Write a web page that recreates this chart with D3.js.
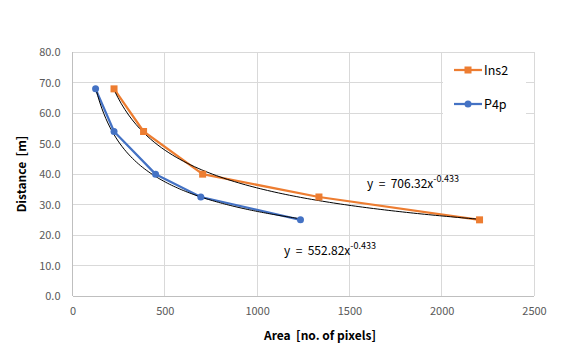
<!DOCTYPE html>
<html><head><meta charset="utf-8">
<script src="https://cdn.jsdelivr.net/npm/d3@7"></script>
<style>
body{margin:0;background:#fff;}
text{font-family:"Noto Sans CJK KR","Open Sans",sans-serif;white-space:pre;}
</style></head>
<body><svg id="c" width="566" height="357"></svg>
<script>
const ins2X = [225, 385, 705, 1335, 2205];
const ins2Y = [68, 54, 40, 32.5, 25];
const p4pX = [125, 225, 450, 695, 1235];
const p4pY = [68, 54, 40, 32.5, 25];
const seriesNames = ["Ins2", "P4p"];
const xTicks = [0, 500, 1000, 1500, 2000, 2500];
const yTicks = [0, 10, 20, 30, 40, 50, 60, 70, 80];
const trendIns2 = {a: 706.32, b: -0.433, label: "706.32"};
const trendP4p = {a: 552.82, b: -0.433, label: "552.82"};

const svg = d3.select("#c");
const x = d3.scaleLinear().domain([0, 2500]).range([72.5, 534]);
const y = d3.scaleLinear().domain([0, 80]).range([296, 52.3]);
const grid = "#d9d9d9", orange = "#ED7D31", blue = "#4472C4";

svg.append("g").selectAll("line").data(yTicks).join("line")
  .attr("x1", x(0)).attr("x2", x(2500)).attr("y1", d => y(d)).attr("y2", d => y(d))
  .attr("stroke", d => d === 0 ? "#bfbfbf" : grid).attr("stroke-width", 1).attr("shape-rendering","crispEdges");
svg.append("g").selectAll("line").data(xTicks).join("line")
  .attr("y1", y(0)).attr("y2", y(80)).attr("x1", d => x(d)).attr("x2", d => x(d))
  .attr("stroke", d => d === 0 ? "#bfbfbf" : grid).attr("stroke-width", 1).attr("shape-rendering","crispEdges");

const ff = '"Noto Sans CJK KR","Open Sans",sans-serif';
const yAxis = d3.axisLeft(y).tickValues(yTicks).tickFormat(d3.format(".1f")).tickSize(0).tickPadding(12);
const ya = svg.append("g").attr("transform", `translate(${x(0)},0)`).call(yAxis);
ya.select(".domain").remove();
ya.selectAll("text").attr("fill", "#595959").style("font-size", "11px").style("font-family", ff);
const xAxis = d3.axisBottom(x).tickValues(xTicks).tickFormat(d3.format("d")).tickSize(0).tickPadding(11);
const xa = svg.append("g").attr("transform", `translate(0,${y(0)})`).call(xAxis);
xa.select(".domain").remove();
xa.selectAll("text").attr("fill", "#595959").style("font-size", "11px").style("font-family", ff);

svg.append("text").attr("x", 320).attr("y", 340).attr("text-anchor", "middle")
  .style("font-size", "12px").style("font-weight", "bold").attr("fill", "#000").text("Area  [no. of pixels]");
svg.append("text").attr("transform", "translate(26,174) rotate(-90)").attr("text-anchor", "middle")
  .style("font-size", "12px").style("font-weight", "bold").attr("fill", "#000").text("Distance  [m]");

const line = d3.line().x(d => x(d[0])).y(d => y(d[1]));
function drawSeries(xs, ys, color) {
  const pts = xs.map((v, i) => [v, ys[i]]);
  svg.append("path").datum(pts).attr("d", line).attr("fill", "none")
    .attr("stroke", color).attr("stroke-width", 2.25).attr("stroke-linejoin", "round");
  return pts;
}
function drawMarkers(pts, color, shape) {
  const g = svg.append("g");
  if (shape === "square") {
    g.selectAll("rect").data(pts).join("rect")
      .attr("x", d => x(d[0]) - 3.5).attr("y", d => y(d[1]) - 3.5).attr("width", 7).attr("height", 7).attr("fill", color);
  } else {
    g.selectAll("circle").data(pts).join("circle")
      .attr("cx", d => x(d[0])).attr("cy", d => y(d[1])).attr("r", 3.5).attr("fill", color);
  }
}
function drawTrend(xs, t) {
  const x0 = xs[0], x1 = xs[xs.length - 1];
  const pts = d3.range(0, 101).map(i => { const xv = x0 + (x1 - x0) * i / 100; return [xv, t.a * Math.pow(xv, t.b)]; });
  svg.append("path").datum(pts).attr("d", line).attr("fill", "none").attr("stroke", "#000").attr("stroke-width", 1);
}
const oPts = drawSeries(ins2X, ins2Y, orange);
const bPts = drawSeries(p4pX, p4pY, blue);
drawTrend(ins2X, trendIns2);
drawTrend(p4pX, trendP4p);
drawMarkers(oPts, orange, "square");
drawMarkers(bPts, blue, "circle");

function trendLabel(tx, ty, t) {
  const tEl = svg.append("text").attr("x", tx).attr("y", ty).style("font-size", "12px").attr("fill", "#000");
  tEl.append("tspan").text("y  =  " + t.label + "x");
  tEl.append("tspan").attr("dy", -6).style("font-size", "9px").text(String(t.b));
}
trendLabel(367, 188, trendIns2);
trendLabel(284, 255, trendP4p);

svg.append("rect").attr("x", 443).attr("y", 56).attr("width", 83).attr("height", 60).attr("fill", "#fff");
const leg = [[seriesNames[0], orange, "square", 70], [seriesNames[1], blue, "circle", 104]];
leg.forEach(([name, color, shape, ly]) => {
  svg.append("line").attr("x1", 454).attr("x2", 482).attr("y1", ly).attr("y2", ly).attr("stroke", color).attr("stroke-width", 2.25);
  if (shape === "square") svg.append("rect").attr("x", 464.5).attr("y", ly - 3.5).attr("width", 7).attr("height", 7).attr("fill", color);
  else svg.append("circle").attr("cx", 468).attr("cy", ly).attr("r", 3.5).attr("fill", color);
  svg.append("text").attr("x", 484).attr("y", ly + 4.5).style("font-size", "12.5px").attr("fill", "#000").text(name);
});
</script></body></html>
